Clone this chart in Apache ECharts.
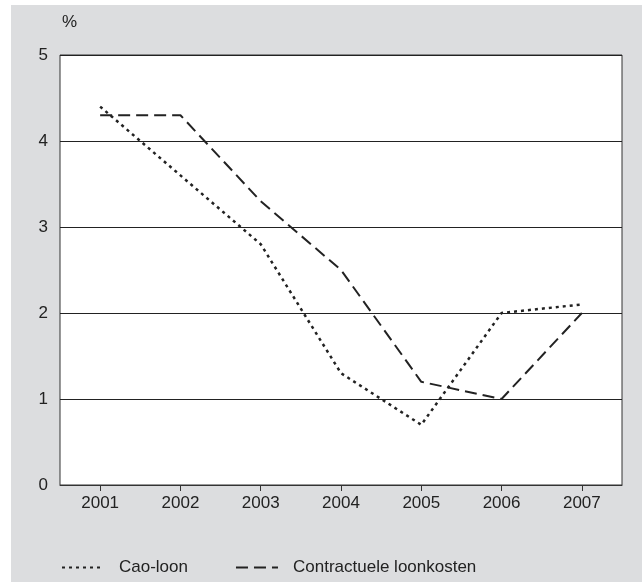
<!DOCTYPE html>
<html><head><meta charset="utf-8">
<script src="https://cdn.jsdelivr.net/npm/echarts@6/dist/echarts.min.js"></script>
<style>html,body{margin:0;padding:0;background:#fff}#c{width:642px;height:582px}</style>
</head><body><div id="c"></div>
<script>
const years = ['2001','2002','2003','2004','2005','2006','2007'];
const caoLoon = [4.4, 3.6, 2.8, 1.3, 0.7, 2.0, 2.1];
const contractueleLoonkosten = [4.3, 4.3, 3.3, 2.5, 1.2, 1.0, 2.0];
const seriesNames = ['Cao-loon', 'Contractuele loonkosten'];

const chart = echarts.init(document.getElementById('c'));
const font = 'Liberation Sans, Arial, sans-serif';
chart.setOption({
  animation: false,
  backgroundColor: '#ffffff',
  graphic: [
    {type:'rect', z:-10, shape:{x:11,y:5,width:631,height:577}, style:{fill:'#dcdddf'}},
    {type:'text', left:62, top:14, style:{text:'%', fontFamily:font, fontSize:17, fill:'#222'}}
  ],
  grid: {left:60, right:20, top:55, bottom:97, show:true, backgroundColor:'#ffffff', borderColor:'#333', borderWidth:1},
  legend: {
    data: seriesNames, left: 56, top: 554, itemWidth: 42, itemHeight: 14, itemGap: 47,
    itemStyle: {opacity: 0},
    textStyle: {fontFamily: font, fontSize: 17, color: '#222', padding:[0,0,0,10]}
  },
  xAxis: {
    type:'category', data: years, boundaryGap: true,
    axisLine:{show:true, lineStyle:{color:'#333', width:1}},
    axisTick:{show:true, alignWithLabel:true, length:6, lineStyle:{color:'#333'}},
    axisLabel:{fontFamily:font, fontSize:17, color:'#222', margin:10},
    splitLine:{show:false}
  },
  yAxis: {
    type:'value', min:0, max:5, interval:1,
    axisLine:{show:false}, axisTick:{show:false},
    axisLabel:{fontFamily:font, fontSize:17, color:'#222', margin:12},
    splitLine:{show:true, lineStyle:{color:'#222', width:1}}
  },
  series: [
    {name: seriesNames[0], type:'line', data: caoLoon, symbol:'none',
     lineStyle:{color:'#222', width:2.5, type:[3,4]}, itemStyle:{color:'#222'}},
    {name: seriesNames[1], type:'line', data: contractueleLoonkosten, symbol:'none',
     lineStyle:{color:'#222', width:2, type:[12,6]}, itemStyle:{color:'#222'}}
  ]
});
</script></body></html>
